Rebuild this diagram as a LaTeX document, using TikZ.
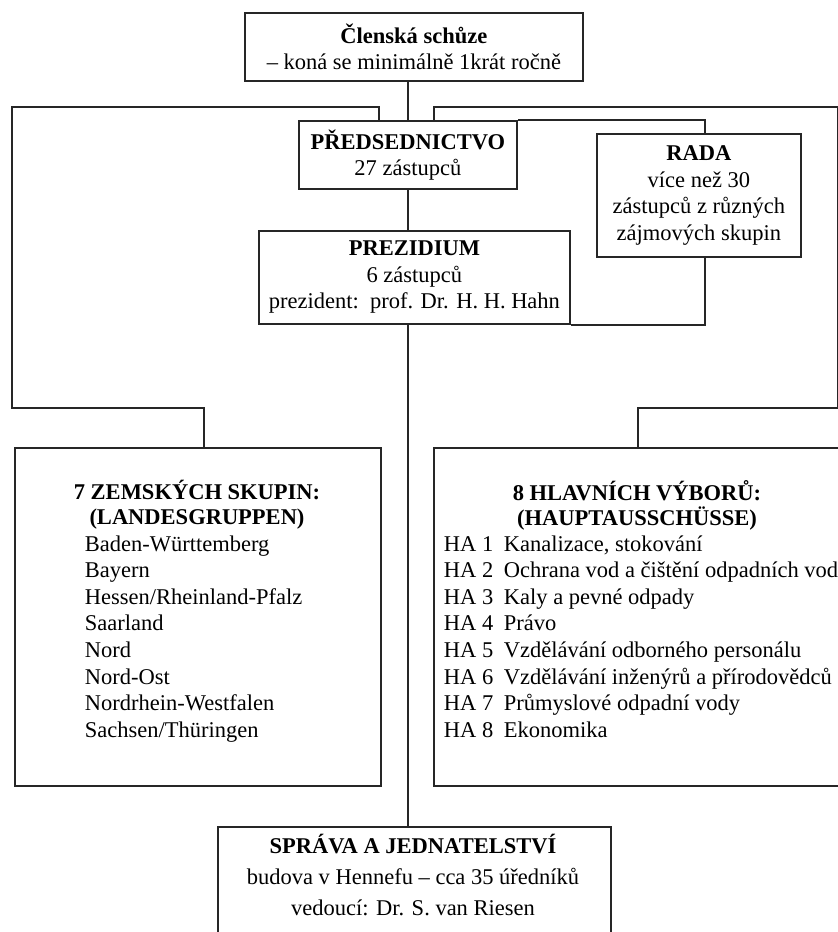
\documentclass[tikz,border=0pt]{standalone}
\usepackage{fontspec}
\setmainfont{Liberation Serif}
\usepackage{tikz}

\begin{document}
\begin{tikzpicture}[x=0.5pt, y=-0.5pt, line width=0.9pt, draw=black!85,
  font=\fontsize{11.25}{13.2}\selectfont,
  box/.style={draw, rectangle, anchor=north west, inner sep=0pt, align=center},
  head/.style={anchor=base, inner sep=0pt, font=\fontsize{11.25}{13.2}\selectfont\bfseries},
  line/.style={anchor=base, inner sep=0pt},
  entry/.style={anchor=base west, inner sep=0pt}]
  % frame of the scan (pixel coordinates, y runs down)
  \useasboundingbox (0,0) rectangle (838,932);
  % top: members' meeting
  \node[box, minimum width=169pt, minimum height=34pt] (schuze) at (244,12)
    {\textbf{Členská schůze}\\ – koná se minimálně 1krát ročně};
  % presidency, council, presidium
  \node[box, minimum width=109pt, minimum height=34pt] (predsed) at (298,120)
    {\textbf{PŘEDSEDNICTVO}\\ 27 zástupců};
  \node[box, minimum width=102pt, minimum height=61.5pt] (rada) at (596,133)
    {\textbf{RADA}\\ více než 30\\ zástupců z různých\\ zájmových skupin};
  \node[box, minimum width=155.5pt, minimum height=46.5pt] (prezid) at (258,230)
    {\textbf{PREZIDIUM}\\ 6 zástupců\\ prezident:\ \ prof. Dr. H. H. Hahn};
  % the two big boxes (the right one runs off the scan)
  \node[box, minimum width=183pt, minimum height=169pt] (zemske) at (14,447) {};
  \node[box, minimum width=204pt, minimum height=169pt] (ha) at (433,447) {};
  % office at the bottom (cut off by the scan)
  \node[box, minimum width=196.5pt, minimum height=60pt] (sprava) at (217,826) {};

  % regional groups
  \node[head] (zemhead) at (197,499) {7 ZEMSKÝCH SKUPIN:};
  \node[head] (zemsub) at (197,524) {(LANDESGRUPPEN)};
  \foreach \i/\name in {1/Baden-Württemberg, 2/Bayern, 3/{Hessen/Rheinland-Pfalz},
      4/Saarland, 5/Nord, 6/Nord-Ost, 7/Nordrhein-Westfalen, 8/{Sachsen/Thüringen}}
    \node[entry] (zem\i) at (84,{551+26.6*(\i-1)}) {\name};

  % main committees
  \node[head] (hahead) at (637,500) {8 HLAVNÍCH VÝBORŮ:};
  \node[head] (hasub) at (637,525) {(HAUPTAUSSCHÜSSE)};
  \foreach \i/\name in {1/{Kanalizace, stokování},
      2/Ochrana vod a čištění odpadních vod, 3/Kaly a pevné odpady, 4/Právo,
      5/Vzdělávání odborného personálu, 6/Vzdělávání inženýrů a přírodovědců,
      7/Průmyslové odpadní vody, 8/Ekonomika}
    \node[entry] (ha\i) at (443,{551+26.6*(\i-1)}) {\makebox[30pt][l]{HA \i}\name};

  % office text
  \node[head] (spravahead) at (413,853) {SPRÁVA A JEDNATELSTVÍ};
  \node[line] (spravabud) at (413,884) {budova v Hennefu – cca 35 úředníků};
  \node[line] (spravaved) at (413,915) {vedoucí: Dr. S. van Riesen};

  % connectors
  \coordinate (ltop) at (12,107);
  \coordinate (lbot) at (12,408);
  \coordinate (rtop) at (838,107);
  \coordinate (rbot) at (838,408);
  \draw (predsed.north |- schuze.south) -- (predsed.north);
  \draw ([xshift=-14.5pt]predsed.north) |- (ltop) -- (lbot) -| ([xshift=3pt]zemske.north);
  \draw ([xshift=13pt]predsed.north) |- (rtop) -- (rbot) -| (ha.north);
  \draw (predsed.north east) -| ([xshift=3pt]rada.north);
  \draw (predsed.south) -- (predsed.south |- prezid.north);
  \draw ([xshift=3pt]rada.south) |- (prezid.south east);
  \draw (predsed.south |- prezid.south) -- (predsed.south |- sprava.north);
\end{tikzpicture}
\end{document}
